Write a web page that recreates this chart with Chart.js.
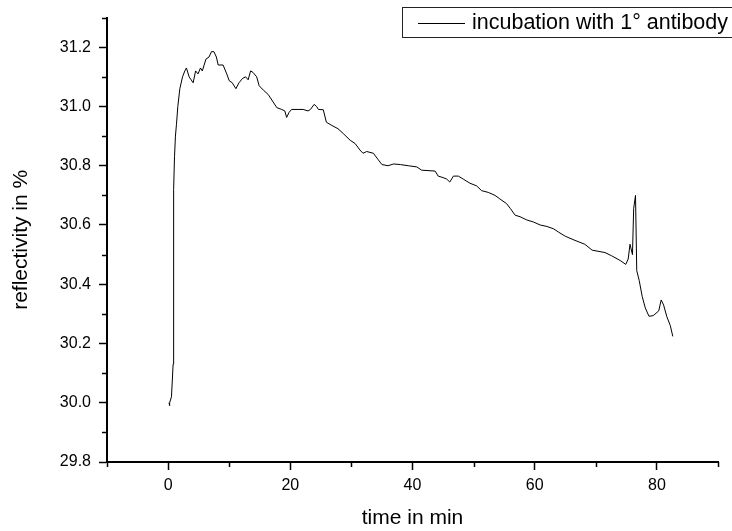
<!DOCTYPE html>
<html>
<head>
<meta charset="utf-8">
<title>incubation with 1° antibody</title>
<script src="https://cdn.jsdelivr.net/npm/chart.js@4"></script>
<style>
  html, body { margin: 0; padding: 0; background: #fff; }
  #wrap { width: 732px; height: 531px; }
</style>
</head>
<body>
<div id="wrap"><canvas id="chart"></canvas></div>
<script>
'use strict';

// series label
var seriesLabel = 'incubation with 1° antibody';

// time in min
var timeMin = [
  0.15, 0.2, 0.3, 0.55, 0.7, 0.82, 0.88, 0.93, 1.05, 1.2, 1.37, 1.59, 1.92, 2.36, 2.74, 3.0,
  3.44, 4.1, 4.5, 4.9, 5.3, 5.6, 6.2, 6.7, 7.1, 7.5, 7.9, 8.2, 9.0, 9.6, 10.0, 10.5,
  11.1, 11.6, 12.2, 12.7, 13.1, 13.5, 13.9, 14.5, 14.9, 15.6, 16.4, 17.8, 18.6, 19.1,
  19.4, 19.8, 20.2, 22.1, 22.9, 23.3, 23.9, 24.3, 24.6, 25.4, 25.9, 26.8, 27.8, 28.7,
  29.8, 30.6, 31.4, 31.9, 32.5, 33.6, 34.4, 35.0, 36.0, 36.9, 38.0, 39.3, 40.7, 41.5,
  43.7, 44.2, 45.0, 45.6, 46.1, 46.7, 47.5, 48.3, 49.4, 50.5, 51.3, 52.4, 53.5, 54.3,
  55.4, 56.0, 56.8, 57.6, 58.7, 59.8, 60.9, 62.0, 63.1, 63.9, 65.0, 66.6, 68.2, 69.4,
  71.5, 72.6, 74.0, 74.9, 75.3, 75.6, 76.0, 76.2, 76.5, 76.7, 77.1, 77.6, 78.1, 78.7,
  79.4, 80.3, 80.7, 81.1, 81.6, 82.2, 82.6
];

// reflectivity in %
var reflectivity = [
  30.00, 29.99, 30.00, 30.02, 30.08, 30.13, 30.50, 30.72, 30.83, 30.90, 30.94, 31.00, 31.06, 31.10, 31.12, 31.13,
  31.10, 31.08, 31.12, 31.11, 31.13, 31.12, 31.16, 31.167, 31.185, 31.185, 31.167, 31.14, 31.14, 31.11, 31.087, 31.08,
  31.06, 31.08, 31.095, 31.10, 31.09, 31.12, 31.115, 31.10, 31.07, 31.055, 31.04, 30.996, 30.99, 30.985,
  30.963, 30.98, 30.99, 30.99, 30.985, 30.99, 31.007, 31.00, 30.99, 30.989, 30.947, 30.936, 30.925, 30.908,
  30.886, 30.875, 30.853, 30.842, 30.848, 30.842, 30.82, 30.804, 30.80, 30.806, 30.804, 30.80, 30.796, 30.785,
  30.782, 30.765, 30.76, 30.755, 30.745, 30.765, 30.765, 30.755, 30.741, 30.732, 30.716, 30.71, 30.70, 30.688,
  30.672, 30.656, 30.633, 30.628, 30.617, 30.61, 30.60, 30.595, 30.587, 30.576, 30.562, 30.548, 30.535, 30.515,
  30.507, 30.496, 30.48, 30.467, 30.485, 30.535, 30.50, 30.656, 30.70, 30.446, 30.413, 30.358, 30.32, 30.292,
  30.294, 30.31, 30.347, 30.33, 30.292, 30.26, 30.224
];

// tick values
var xTicks = [0, 20, 40, 60, 80];
var xMinor = [-10, 10, 30, 50, 70, 90];
var yTicks = [29.8, 30.0, 30.2, 30.4, 30.6, 30.8, 31.0, 31.2];
var yMinor = [29.9, 30.1, 30.3, 30.5, 30.7, 30.9, 31.1, 31.3];

var font = 'Liberation Sans, Arial, sans-serif';

// short ticks between the labelled ones
var minorTicks = {
  id: 'minorTicks',
  afterDraw: function (chart) {
    var ctx = chart.ctx;
    var xs = chart.scales.x;
    var ys = chart.scales.y;
    var area = chart.chartArea;
    ctx.save();
    ctx.strokeStyle = '#000';
    ctx.lineWidth = 1.5;
    ctx.beginPath();
    xMinor.forEach(function (v) {
      var px = Math.round(xs.getPixelForValue(v)) + 0.5;
      ctx.moveTo(px, area.bottom);
      ctx.lineTo(px, area.bottom + 5);
    });
    yMinor.forEach(function (v) {
      var py = Math.round(ys.getPixelForValue(v)) + 0.5;
      ctx.moveTo(area.left, py);
      ctx.lineTo(area.left - 5, py);
    });
    ctx.stroke();
    ctx.restore();
  }
};

// boxed legend in the top right corner
var boxLegend = {
  id: 'boxLegend',
  afterDraw: function (chart) {
    var ctx = chart.ctx;
    var ds = chart.data.datasets[0];
    ctx.save();
    ctx.strokeStyle = '#222';
    ctx.lineWidth = 1;
    ctx.strokeRect(402.5, 7.5, 340, 30);
    ctx.strokeStyle = ds.borderColor;
    ctx.beginPath();
    ctx.moveTo(418, 23.5);
    ctx.lineTo(465, 23.5);
    ctx.stroke();
    ctx.fillStyle = '#000';
    ctx.font = '21.5px ' + font;
    ctx.textBaseline = 'middle';
    ctx.fillText(ds.label, 472, 23);
    ctx.restore();
  }
};

var points = timeMin.map(function (t, i) {
  return { x: t, y: reflectivity[i] };
});

new Chart(document.getElementById('chart'), {
  type: 'line',
  data: {
    datasets: [{
      label: seriesLabel,
      data: points,
      borderColor: '#000',
      borderWidth: 1,
      pointRadius: 0,
      tension: 0,
      fill: false
    }]
  },
  options: {
    responsive: true,
    maintainAspectRatio: false,
    animation: false,
    events: [],
    layout: { padding: { top: 7, right: 14, bottom: 0, left: 0 } },
    plugins: {
      legend: { display: false },
      tooltip: { enabled: false }
    },
    scales: {
      x: {
        type: 'linear',
        min: -10,
        max: 90,
        afterFit: function (s) { s.height = 69; },
        afterBuildTicks: function (s) {
          s.ticks = xTicks.map(function (v) { return { value: v }; });
        },
        border: { color: '#000', width: 2 },
        grid: { drawOnChartArea: false, tickLength: 8, tickColor: '#000', tickWidth: 1.5 },
        ticks: {
          autoSkip: false,
          maxRotation: 0,
          padding: 6,
          color: '#000',
          font: { family: font, size: 16 }
        },
        title: {
          display: true,
          text: 'time in min',
          color: '#000',
          padding: { top: 0, bottom: 0 },
          font: { family: font, size: 21 }
        }
      },
      y: {
        type: 'linear',
        min: 29.8,
        max: 31.3,
        afterFit: function (s) { s.width = 107; },
        afterBuildTicks: function (s) {
          s.ticks = yTicks.map(function (v) { return { value: v }; });
        },
        border: { color: '#000', width: 2 },
        grid: { drawOnChartArea: false, tickLength: 8, tickColor: '#000', tickWidth: 1.5 },
        ticks: {
          autoSkip: false,
          padding: 8,
          color: '#000',
          font: { family: font, size: 16 },
          callback: function (v) { return Number(v).toFixed(1); }
        },
        title: {
          display: true,
          text: 'reflectivity in %',
          color: '#000',
          padding: { top: 9, bottom: 0 },
          font: { family: font, size: 21 }
        }
      }
    }
  },
  plugins: [minorTicks, boxLegend]
});
</script>
</body>
</html>
